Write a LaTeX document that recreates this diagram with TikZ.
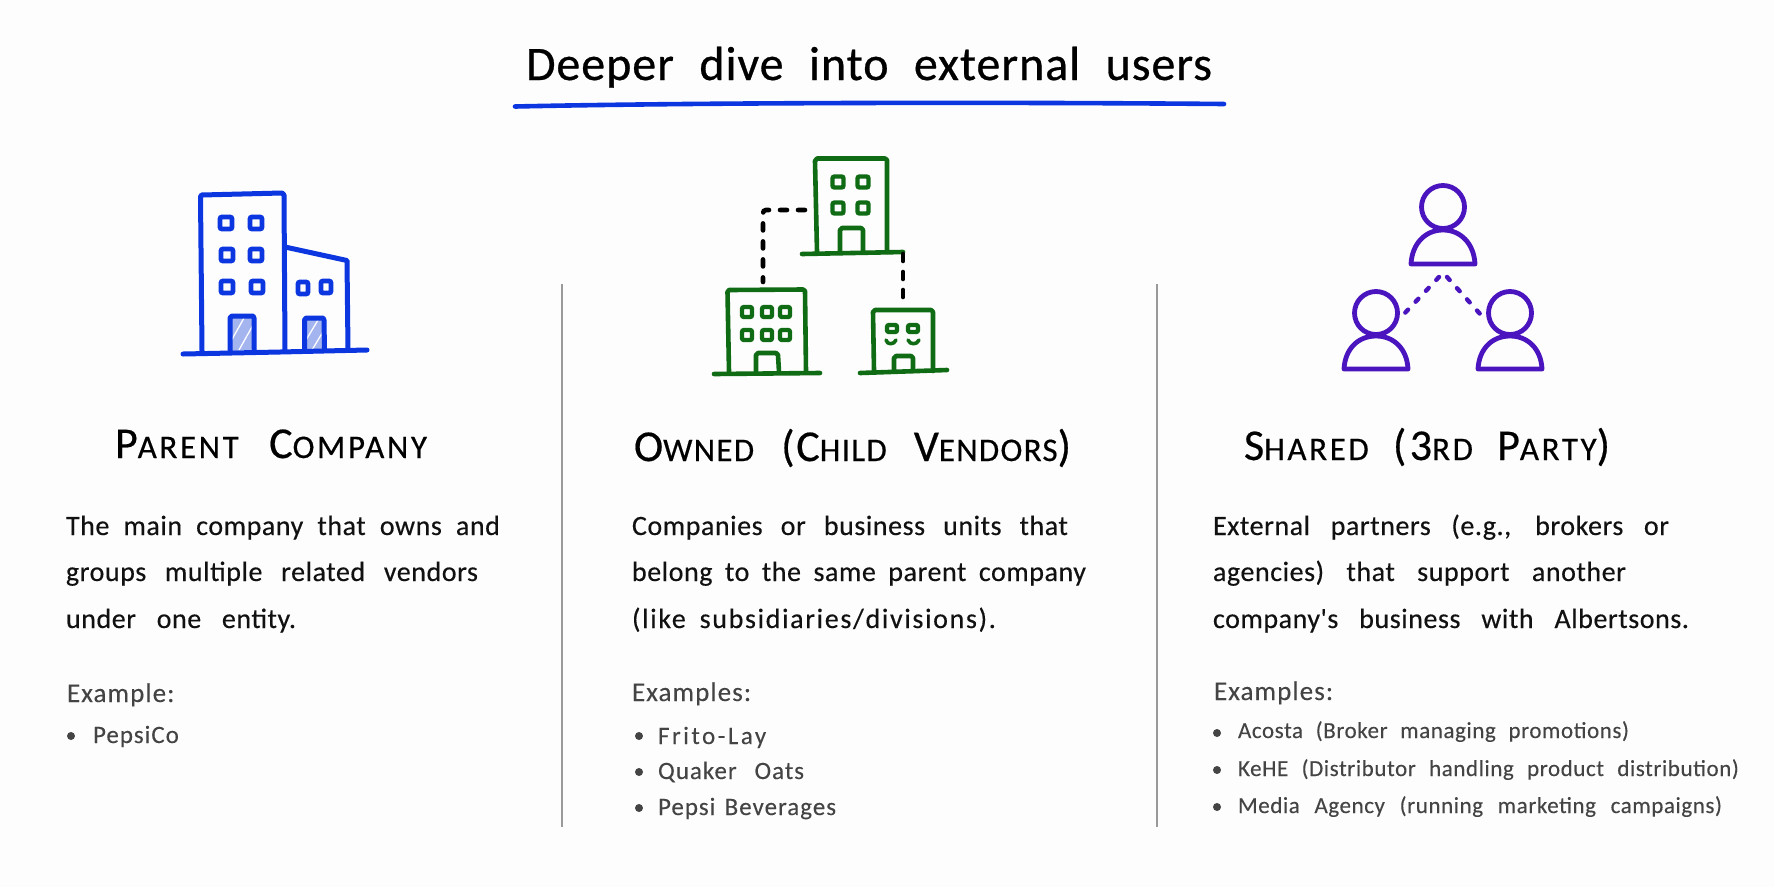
\documentclass[tikz,border=0pt]{standalone}
\usepackage{fontspec}
\setmainfont{Carlito}
\newfontfamily\titlefont{Carlito}[LetterSpace=2,FakeBold=0.6]
\newfontfamily\headfont{Carlito}[LetterSpace=8,FakeBold=0.45]
\newfontfamily\headnarrow{Carlito}[LetterSpace=4,FakeBold=0.45]
\newfontfamily\bodyfont{Carlito}[LetterSpace=2,FakeBold=0.35]
\newfontfamily\bodywide{Carlito}[LetterSpace=6,FakeBold=0.35]
\newfontfamily\exfont{Carlito}[LetterSpace=4,FakeBold=0.15]
\newfontfamily\exsmall{Carlito}[LetterSpace=2.5,FakeBold=0.15]
\newfontfamily\exwide{Carlito}[LetterSpace=10,FakeBold=0.15]
\definecolor{bgc}{HTML}{FDFDFD}
\definecolor{blueink}{HTML}{0B36E0}
\definecolor{greenink}{HTML}{0F6B14}
\definecolor{purpleink}{HTML}{4A14BE}
\definecolor{hatchc}{HTML}{A3B4EE}
\definecolor{textc}{HTML}{111111}
\definecolor{exc}{HTML}{444444}
\definecolor{divc}{HTML}{9A9A9A}
\newcommand\fitline[2]{\makebox[#1pt][s]{#2}}
\newcommand\capbig[1]{{\fontsize{44}{44}\selectfont #1}}
\tikzset{
  txt/.style={anchor=base west,inner sep=0pt,outer sep=0pt},
  titletxt/.style={txt,font=\titlefont\fontsize{48}{48}\selectfont,text=black},
  headtxt/.style={txt,font=\headfont\fontsize{33}{33}\selectfont,text=black},
  headntxt/.style={txt,font=\headnarrow\fontsize{33}{33}\selectfont,text=black},
  bodytxt/.style={txt,font=\bodyfont\fontsize{28}{28}\selectfont,text=textc},
  bodywidetxt/.style={txt,font=\bodywide\fontsize{28}{28}\selectfont,text=textc},
  extxt/.style={txt,font=\exfont\fontsize{27}{27}\selectfont,text=exc},
  itemtxt/.style={txt,font=\exfont\fontsize{25}{25}\selectfont,text=exc},
  itemwidetxt/.style={txt,font=\exwide\fontsize{25}{25}\selectfont,text=exc},
  smalltxt/.style={txt,font=\exsmall\fontsize{23}{23}\selectfont,text=exc},
  bul/.style={circle,fill=exc,inner sep=0pt,minimum size=8pt},
  ink/.style={line width=#1,line cap=round,line join=round},
  divline/.style={draw=divc,line width=1.4pt},
  bluel/.style={ink=5pt,draw=blueink},
  bluew/.style={line width=4.8pt,draw=blueink,rounded corners=2pt},
  greenl/.style={ink=4.6pt,draw=greenink},
  greenw/.style={line width=4.4pt,draw=greenink,rounded corners=2pt},
  purplel/.style={ink=4.8pt,draw=purpleink},
  blackdash/.style={line width=4.6pt,line cap=round,draw=black,dash pattern=on 7pt off 11pt},
  purpledash/.style={line width=4.4pt,line cap=round,draw=purpleink,dash pattern=on 4pt off 11pt},
}
\newcommand\winB[4]{\draw[bluew] (#1-#3,#2-#4) rectangle (#1+#3,#2+#4);}
\newcommand\winG[4]{\draw[greenw] (#1-#3,#2-#4) rectangle (#1+#3,#2+#4);}
\newcommand\personicon[4]{% x of head, y of head, y of body top, y of base
  \draw[purplel] (#1,#2) circle (21.5pt);
  \draw[purplel] (#1-32,#4) .. controls (#1-31,#4-20) and (#1-18,#3) .. (#1,#3)
     .. controls (#1+18,#3) and (#1+31,#4-20) .. (#1+32,#4) -- cycle;
}
\begin{document}
\begin{tikzpicture}[x=1pt,y=-1pt]
\useasboundingbox (0,0) rectangle (1774,887);
\fill[bgc] (0,0) rectangle (1774,887);

% title
\node[titletxt] (title) at (526,80) {\fitline{686}{Deeper dive into external users}};
\coordinate (ulA) at (515,106.5);
\coordinate (ulB) at (1224,104);
\draw[ink=4.6pt,draw=blueink] (ulA) .. controls (700,102.5) and (1000,102) .. (ulB);

% dividers
\coordinate (d1a) at (562,284); \coordinate (d1b) at (562,827);
\coordinate (d2a) at (1157,284); \coordinate (d2b) at (1157,827);
\draw[divline] (d1a) -- (d1b);
\draw[divline] (d2a) -- (d2b);

% blue building
\fill[hatchc] (232,318) rectangle (252,350);
\fill[hatchc] (306,320) rectangle (322,350);
\begin{scope}
\clip (232,318) rectangle (252,350);
\foreach \a in {0,13,26,39}{\draw[white,line width=1.3pt] (226+\a,350) -- (244+\a,318);}
\end{scope}
\begin{scope}
\clip (306,320) rectangle (322,350);
\foreach \a in {0,12,24}{\draw[white,line width=1.3pt] (300+\a,350) -- (318+\a,320);}
\end{scope}
\draw[bluel] (202,351) -- (200.5,197) -- (201.5,195) -- (282,193) -- (284,195) -- (285,351);
\draw[bluel] (285,247) -- (347,260.5) -- (348,350);
\draw[bluel] (183,354) -- (280,352) -- (367,350);
\draw[bluel] (230,352) -- (230,318) -- (232,316) -- (253,316) -- (254,318) -- (254,351);
\draw[bluel] (304.5,351) -- (304.5,320) -- (306,318) -- (323,318) -- (324,320) -- (324.5,350);
\winB{226}{223}{6}{6}\winB{256}{223}{6}{6}
\winB{227}{255}{6}{6}\winB{256}{255}{6}{6}
\winB{227}{287}{6}{6}\winB{257}{287}{6}{6}
\winB{303}{288}{5}{6}\winB{326}{287}{5}{6}

% green buildings
\draw[greenl] (817,252) -- (815,161) -- (817,158.5) -- (885,158.5) -- (887,160) -- (887,252);
\draw[greenl] (802,254) -- (903,252);
\draw[greenl] (840,252) -- (840,230) -- (842,228) -- (861,228) -- (863,230) -- (863,252);
\winG{838}{182}{5.5}{5.5}\winG{863}{182}{5.5}{5.5}
\winG{838}{208}{5.5}{5.5}\winG{863}{208}{5.5}{5.5}

\draw[greenl] (729,372) -- (727.5,292) -- (729,290) -- (803,289.5) -- (805,291) -- (806,372);
\draw[greenl] (714,374) -- (820,373);
\draw[greenl] (756,372) -- (756,355) -- (758,353) -- (776,353) -- (778,355) -- (779,372);
\winG{747}{312}{5}{5}\winG{767}{312}{5}{5}\winG{785}{312}{5}{5}
\winG{747}{335}{5}{5}\winG{767}{335}{5}{5}\winG{785}{335}{5}{5}

\draw[greenl] (874,371) -- (873,312) -- (875,310) -- (931,310) -- (933,312) -- (933,371);
\draw[greenl] (860,373) -- (947,370);
\draw[greenl] (894,371) -- (894,358) -- (896,356) -- (911,356) -- (913,358) -- (913,371);
\draw[greenw] (887,325) rectangle (897,332);
\draw[greenw] (908,325) rectangle (918,332);
\draw[greenl,line width=3.6pt] (886,340) .. controls (887,345) and (894,345) .. (896,340);
\draw[greenl,line width=3.6pt] (908,340) .. controls (910,345) and (917,345) .. (919,340);

% dashed links
\coordinate (lnkA) at (805,210);
\coordinate (lnkB) at (763,282);
\coordinate (lnkC) at (903,254);
\coordinate (lnkD) at (903,302);
\draw[blackdash,rounded corners=3pt] (lnkA) -| (lnkB);
\draw[blackdash] (lnkC) -- (lnkD);

% people
\personicon{1443}{207}{230}{264}
\personicon{1376}{313}{336}{369}
\personicon{1510}{313}{336}{369}
\coordinate (dotA) at (1403,315);
\coordinate (dotB) at (1439,277);
\coordinate (dotC) at (1447,277);
\coordinate (dotD) at (1481,315);
\draw[purpledash] (dotB) -- (dotA);
\draw[purpledash] (dotC) -- (dotD);

% column 1
\node[headtxt] (h1) at (115,458) {\fitline{312}{\capbig{P}ARENT \capbig{C}OMPANY}};
\node[bodytxt] (b1a) at (66,535) {\fitline{434}{The main company that owns and}};
\node[bodytxt] (b1b) at (66,581) {\fitline{412}{groups multiple related vendors}};
\node[bodytxt] (b1c) at (66,628) {\fitline{230}{under one entity.}};
\node[extxt] (e1) at (67,702) {Example:};
\node[bul] (e1b) at (71,736) {};
\node[itemtxt] (e1i) at (93,743) {PepsiCo};

% column 2
\node[headntxt] (h2) at (634,461) {\fitline{437}{\capbig{O}WNED \capbig{(C}HILD \capbig{V}ENDORS\capbig{)}}};
\node[bodytxt] (b2a) at (632,535) {\fitline{436}{Companies or business units that}};
\node[bodytxt] (b2b) at (632,581) {\fitline{454}{belong to the same parent company}};
\node[bodywidetxt] (b2c) at (632,628) {\fitline{364}{(like subsidiaries/divisions).}};
\node[extxt] (e2) at (632,701) {Examples:};
\node[bul] (e2b1) at (639,736) {};
\node[bul] (e2b2) at (639,772) {};
\node[bul] (e2b3) at (639,808) {};
\node[itemwidetxt] (e2i1) at (658,744) {Frito-Lay};
\node[itemtxt] (e2i2) at (658,779) {\fitline{146}{Quaker Oats}};
\node[itemtxt] (e2i3) at (658,815) {\fitline{178}{Pepsi Beverages}};

% column 3
\node[headtxt] (h3) at (1244,460) {\fitline{366}{\capbig{S}HARED \capbig{(3}RD \capbig{P}ARTY\capbig{)}}};
\node[bodytxt] (b3a) at (1213,535) {\fitline{456}{External partners (e.g., brokers or}};
\node[bodytxt] (b3b) at (1213,581) {\fitline{413}{agencies) that support another}};
\node[bodytxt] (b3c) at (1213,628) {\fitline{476}{company's business with Albertsons.}};
\node[extxt] (e3) at (1214,700) {Examples:};
\node[bul] (e3b1) at (1217,733) {};
\node[bul] (e3b2) at (1217,770) {};
\node[bul] (e3b3) at (1217,807) {};
\node[smalltxt] (e3i1) at (1238,738) {\fitline{391}{Acosta (Broker managing promotions)}};
\node[smalltxt] (e3i2) at (1238,776) {\fitline{501}{KeHE (Distributor handling product distribution)}};
\node[smalltxt] (e3i3) at (1238,813) {\fitline{484}{Media Agency (running marketing campaigns)}};
\end{tikzpicture}
\end{document}
